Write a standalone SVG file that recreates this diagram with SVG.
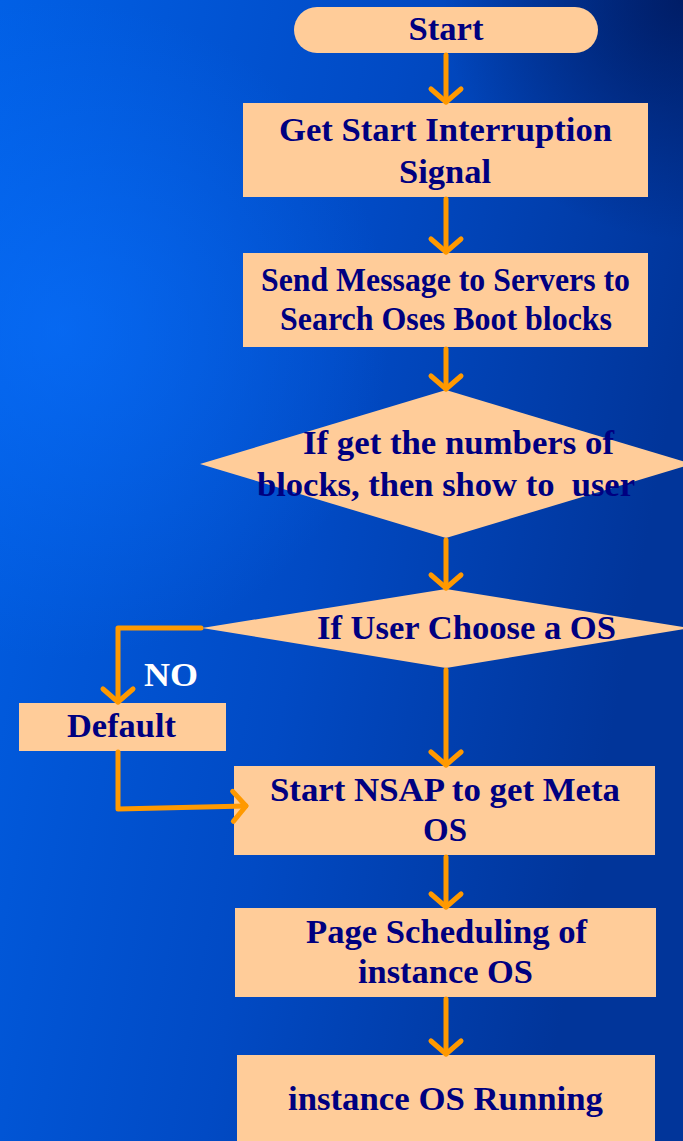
<svg xmlns="http://www.w3.org/2000/svg" width="683" height="1141" viewBox="0 0 683 1141">
  <defs>
    <linearGradient id="bg" x1="0" y1="0" x2="1" y2="0.3">
      <stop offset="0" stop-color="#0160e6"/>
      <stop offset="0.55" stop-color="#014ac4"/>
      <stop offset="1" stop-color="#01359a"/>
    </linearGradient>
    <radialGradient id="corner" cx="683" cy="0" r="240" gradientUnits="userSpaceOnUse">
      <stop offset="0" stop-color="#001a60" stop-opacity="0.9"/>
      <stop offset="1" stop-color="#001a60" stop-opacity="0"/>
    </radialGradient>
    <radialGradient id="glow" cx="60" cy="330" r="330" gradientUnits="userSpaceOnUse">
      <stop offset="0" stop-color="#0a72ff" stop-opacity="0.6"/>
      <stop offset="1" stop-color="#0a72ff" stop-opacity="0"/>
    </radialGradient>
    <marker id="arr" markerUnits="userSpaceOnUse" markerWidth="40" markerHeight="40" viewBox="-20 -20 40 40" refX="0" refY="0" orient="auto">
      <path d="M-13,-15 L0,0 L-13,15" fill="none" stroke="#ff9900" stroke-width="5" stroke-linecap="round" stroke-linejoin="round"/>
    </marker>
  </defs>
  <style>
    .box { fill: #ffcc99; }
    .t { font-family: "Liberation Serif", "Times New Roman", serif; font-weight: bold; font-size: 33px; fill: #000080; text-anchor: middle; }
    .no { font-family: "Liberation Serif", "Times New Roman", serif; font-weight: bold; font-size: 34px; fill: #ffffff; text-anchor: middle; }
    .c { fill: none; stroke: #ff9900; stroke-width: 5; stroke-linecap: round; stroke-linejoin: round; marker-end: url(#arr); }
  </style>
  <rect x="0" y="0" width="683" height="1141" fill="url(#bg)"/>
  <rect x="0" y="0" width="683" height="1141" fill="url(#glow)"/>
  <rect x="0" y="0" width="683" height="1141" fill="url(#corner)"/>

  <g id="start">
    <rect class="box" x="294" y="7" width="304" height="46" rx="23"/>
    <text class="t" x="446" y="40" textLength="75" lengthAdjust="spacingAndGlyphs">Start</text>
  </g>
  <g id="get-signal">
    <rect class="box" x="243" y="103" width="405" height="94"/>
    <text class="t" x="445.5" y="141" textLength="333" lengthAdjust="spacingAndGlyphs">Get Start Interruption</text>
    <text class="t" x="445" y="183" textLength="92" lengthAdjust="spacingAndGlyphs">Signal</text>
  </g>
  <g id="send-message">
    <rect class="box" x="243" y="253" width="405" height="94"/>
    <text class="t" x="445.5" y="291" textLength="369" lengthAdjust="spacingAndGlyphs">Send Message to Servers to</text>
    <text class="t" x="446" y="330" textLength="332" lengthAdjust="spacingAndGlyphs">Search Oses Boot blocks</text>
  </g>
  <g id="decision-blocks">
    <polygon class="box" points="446,390 692,464 446,538 200,464"/>
    <text class="t" x="458.5" y="454" textLength="311" lengthAdjust="spacingAndGlyphs">If get the numbers of</text>
    <text class="t" x="446" y="496" textLength="378" lengthAdjust="spacingAndGlyphs" xml:space="preserve">blocks, then show to  user</text>
  </g>
  <g id="decision-choose">
    <polygon class="box" points="446,589 690,628 446,668 202,628"/>
    <text class="t" x="466.5" y="639" textLength="299" lengthAdjust="spacingAndGlyphs">If User Choose a OS</text>
  </g>
  <g id="no-label">
    <text class="no" x="171" y="686" textLength="54" lengthAdjust="spacingAndGlyphs">NO</text>
  </g>
  <g id="default">
    <rect class="box" x="19" y="703" width="207" height="48"/>
    <text class="t" x="121.5" y="737" textLength="109" lengthAdjust="spacingAndGlyphs">Default</text>
  </g>
  <g id="start-nsap">
    <rect class="box" x="234" y="766" width="421" height="89"/>
    <text class="t" x="445" y="801" textLength="350" lengthAdjust="spacingAndGlyphs">Start NSAP to get Meta</text>
    <text class="t" x="445" y="841" textLength="44" lengthAdjust="spacingAndGlyphs">OS</text>
  </g>
  <g id="page-scheduling">
    <rect class="box" x="235" y="908" width="421" height="89"/>
    <text class="t" x="446.5" y="943" textLength="281" lengthAdjust="spacingAndGlyphs">Page Scheduling of</text>
    <text class="t" x="445.5" y="983" textLength="175" lengthAdjust="spacingAndGlyphs">instance OS</text>
  </g>
  <g id="running">
    <rect class="box" x="237" y="1055" width="418" height="90"/>
    <text class="t" x="445.5" y="1110" textLength="315" lengthAdjust="spacingAndGlyphs">instance OS Running</text>
  </g>

  <g id="connectors">
    <path class="c" d="M446,55 L446,102"/>
    <path class="c" d="M446,199 L446,252"/>
    <path class="c" d="M446,349 L446,389"/>
    <path class="c" d="M446,540 L446,588"/>
    <path class="c" d="M201,628 L118,628 L118,702"/>
    <path class="c" d="M118,752 L118,809 L246,806"/>
    <path class="c" d="M446,670 L446,765"/>
    <path class="c" d="M446,857 L446,907"/>
    <path class="c" d="M446,999 L446,1054"/>
  </g>
</svg>
